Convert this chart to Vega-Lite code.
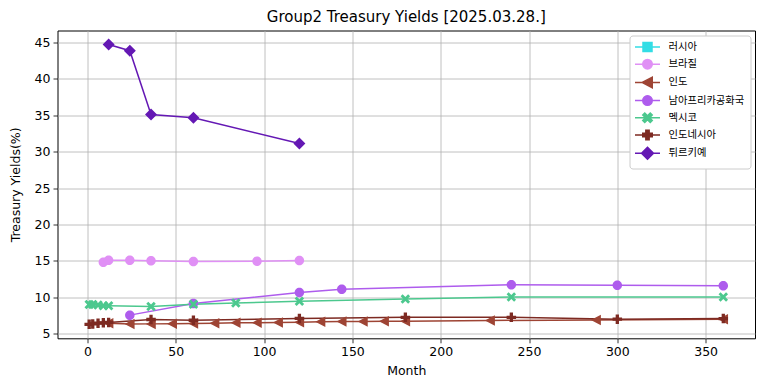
{
  "$schema": "https://vega.github.io/schema/vega-lite/v6.json",
  "autosize": {"type": "none"},
  "padding": {"left": 57.5, "top": 30.5, "right": 9, "bottom": 52.7},
  "width": 697.5,
  "height": 307.8,
  "title": {"text": "Group2 Treasury Yields [2025.03.28.]", "fontSize": 15, "fontWeight": "normal", "color": "black", "font": "DejaVu Sans", "offset": 6},
  "config": {
    "font": "DejaVu Sans",
    "view": {"stroke": "black", "strokeWidth": 1},
    "axis": {
      "grid": true, "gridColor": "#b0b0b0", "gridWidth": 0.8, "domain": false,
      "tickColor": "black", "tickSize": 4.5, "tickWidth": 0.8,
      "labelFontSize": 12.5, "labelColor": "black", "labelPadding": 3, "labelFont": "DejaVu Sans",
      "titleFontSize": 12.5, "titleFontWeight": "normal", "titleColor": "black", "titleFont": "DejaVu Sans"
    },
    "legend": {
      "title": null, "orient": "top-right", "offset": 5,
      "fillColor": "white", "strokeColor": "#cccccc", "cornerRadius": 3, "padding": 5.5,
      "labelFont": "Noto Sans CJK KR", "labelFontSize": 10.3, "labelColor": "black",
      "symbolSize": 100, "rowPadding": 1.2, "symbolOffset": 6.5, "labelOffset": 15
    }
  },
  "data": {"values": [
    {"c": "브라질", "m": 9, "y": 14.8}, {"c": "브라질", "m": 12, "y": 15.08}, {"c": "브라질", "m": 24, "y": 15.1}, {"c": "브라질", "m": 36, "y": 15.0}, {"c": "브라질", "m": 60, "y": 14.9}, {"c": "브라질", "m": 96, "y": 14.95}, {"c": "브라질", "m": 120, "y": 15.05},
    {"c": "인도", "m": 12, "y": 6.42}, {"c": "인도", "m": 24, "y": 6.33}, {"c": "인도", "m": 36, "y": 6.35}, {"c": "인도", "m": 48, "y": 6.37}, {"c": "인도", "m": 60, "y": 6.4}, {"c": "인도", "m": 72, "y": 6.45}, {"c": "인도", "m": 84, "y": 6.49}, {"c": "인도", "m": 96, "y": 6.52}, {"c": "인도", "m": 108, "y": 6.55}, {"c": "인도", "m": 120, "y": 6.58}, {"c": "인도", "m": 132, "y": 6.63}, {"c": "인도", "m": 144, "y": 6.66}, {"c": "인도", "m": 156, "y": 6.68}, {"c": "인도", "m": 168, "y": 6.7}, {"c": "인도", "m": 180, "y": 6.72}, {"c": "인도", "m": 228, "y": 6.82}, {"c": "인도", "m": 288, "y": 6.88}, {"c": "인도", "m": 360, "y": 6.97},
    {"c": "남아프리카공화국", "m": 24, "y": 7.55}, {"c": "남아프리카공화국", "m": 60, "y": 9.15}, {"c": "남아프리카공화국", "m": 120, "y": 10.65}, {"c": "남아프리카공화국", "m": 144, "y": 11.1}, {"c": "남아프리카공화국", "m": 240, "y": 11.72}, {"c": "남아프리카공화국", "m": 300, "y": 11.65}, {"c": "남아프리카공화국", "m": 360, "y": 11.6},
    {"c": "멕시코", "m": 1, "y": 9.0}, {"c": "멕시코", "m": 3, "y": 9.0}, {"c": "멕시코", "m": 6, "y": 8.95}, {"c": "멕시코", "m": 9, "y": 8.85}, {"c": "멕시코", "m": 12, "y": 8.85}, {"c": "멕시코", "m": 36, "y": 8.75}, {"c": "멕시코", "m": 60, "y": 9.05}, {"c": "멕시코", "m": 84, "y": 9.2}, {"c": "멕시코", "m": 120, "y": 9.45}, {"c": "멕시코", "m": 180, "y": 9.75}, {"c": "멕시코", "m": 240, "y": 10.05}, {"c": "멕시코", "m": 360, "y": 10.05},
    {"c": "인도네시아", "m": 1, "y": 6.29}, {"c": "인도네시아", "m": 3, "y": 6.35}, {"c": "인도네시아", "m": 6, "y": 6.45}, {"c": "인도네시아", "m": 9, "y": 6.5}, {"c": "인도네시아", "m": 12, "y": 6.55}, {"c": "인도네시아", "m": 36, "y": 6.95}, {"c": "인도네시아", "m": 60, "y": 6.85}, {"c": "인도네시아", "m": 120, "y": 7.1}, {"c": "인도네시아", "m": 180, "y": 7.25}, {"c": "인도네시아", "m": 240, "y": 7.25}, {"c": "인도네시아", "m": 300, "y": 7.0}, {"c": "인도네시아", "m": 360, "y": 7.08},
    {"c": "튀르키예", "m": 12, "y": 44.7}, {"c": "튀르키예", "m": 24, "y": 43.85}, {"c": "튀르키예", "m": 36, "y": 35.1}, {"c": "튀르키예", "m": 60, "y": 34.65}, {"c": "튀르키예", "m": 120, "y": 31.1}
  ]},
  "encoding": {
    "x": {"field": "m", "type": "quantitative", "scale": {"domain": [-16.95, 377.95], "nice": false, "zero": false},
      "axis": {"values": [0, 50, 100, 150, 200, 250, 300, 350], "title": "Month", "titlePadding": 6}},
    "y": {"field": "y", "type": "quantitative", "scale": {"domain": [4.37, 46.62], "nice": false, "zero": false},
      "axis": {"values": [5, 10, 15, 20, 25, 30, 35, 40, 45], "title": "Treasury Yields(%)", "titlePadding": 12}},
    "color": {"field": "c", "type": "nominal",
      "scale": {"domain": ["러시아", "브라질", "인도", "남아프리카공화국", "멕시코", "인도네시아", "튀르키예"],
        "range": ["#33dde5", "#e090f5", "#9e4434", "#ae5ced", "#4cc88e", "#7d2a22", "#6418b4"]},
      "legend": {"encoding": {"symbols": {"update": {"stroke": {"scale": "color", "field": "value"}, "strokeWidth": {"value": 1.5}, "fill": {"scale": "color", "field": "value"}, "opacity": {"value": 1}}}}}}
  },
  "layer": [
    {"mark": {"type": "line", "strokeWidth": 1.5}},
    {"mark": {"type": "point", "filled": true, "opacity": 1, "size": 100, "strokeWidth": 0},
      "encoding": {
        "shape": {"field": "c", "type": "nominal",
          "scale": {"domain": ["러시아", "브라질", "인도", "남아프리카공화국", "멕시코", "인도네시아", "튀르키예"],
            "range": [
              "M-2.5,0H2.5M-0.9,-0.9H0.9V0.9H-0.9Z",
              "M-2.5,0H2.5M0.95,0A0.95,0.95,0,1,1,-0.95,0A0.95,0.95,0,1,1,0.95,0Z",
              "M-2.5,0H2.5M-1.05,0L0.95,-1.05L0.95,1.05Z",
              "M-2.5,0H2.5M0.95,0A0.95,0.95,0,1,1,-0.95,0A0.95,0.95,0,1,1,0.95,0Z",
              "M-2.5,0H2.5M-0.95,-0.55L-0.55,-0.95L0,-0.4L0.55,-0.95L0.95,-0.55L0.4,0L0.95,0.55L0.55,0.95L0,0.4L-0.55,0.95L-0.95,0.55L-0.4,0Z",
              "M-2.5,0H2.5M-0.95,-0.33H-0.33V-0.95H0.33V-0.33H0.95V0.33H0.33V0.95H-0.33V0.33H-0.95Z",
              "M-2.5,0H2.5M-1.2,0L0,-1.2L1.2,0L0,1.2Z"
            ]},
          "legend": {"encoding": {"symbols": {"update": {"stroke": {"scale": "color", "field": "value"}, "strokeWidth": {"value": 1.5}, "fill": {"scale": "color", "field": "value"}, "opacity": {"value": 1}}}}}}
      }}
  ]
}
